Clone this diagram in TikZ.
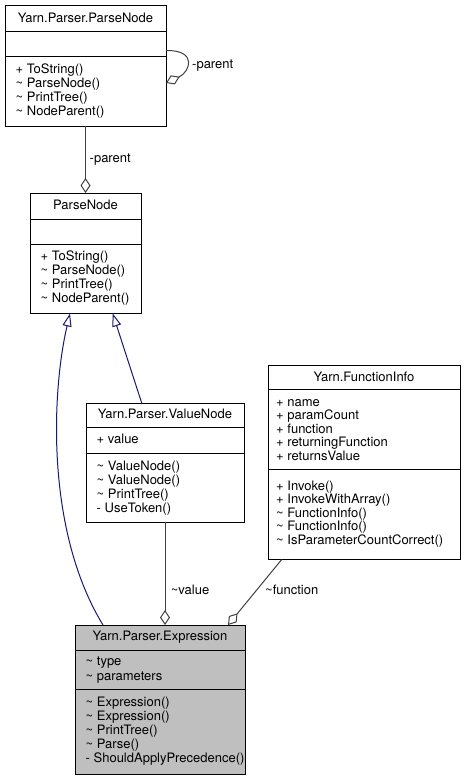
\documentclass[tikz,border=0pt]{standalone}
\usepackage{fontspec}
\setmainfont{TeX Gyre Heros}
\usetikzlibrary{arrows.meta}
\newcommand{\tld}{\textasciitilde}
\newcommand{\fnt}{\fontsize{13pt}{14pt}\selectfont}
\definecolor{edgeblue}{HTML}{191970}
\definecolor{edgegray}{HTML}{404040}
\definecolor{boxgray}{HTML}{BFBFBF}
\begin{document}
\begin{tikzpicture}[x=1pt,y=-1pt,
  box/.style={draw=black, line width=1pt, rectangle, inner sep=0pt, outer sep=0pt, anchor=north west, fill=white},
  txt/.style={anchor=base west, inner sep=0pt, font=\fnt},
  ttl/.style={anchor=base, inner sep=0pt, font=\fnt},
  lbl/.style={anchor=base west, inner sep=0pt, font=\fnt},
  sepline/.style={line width=1pt},
  agg/.style={draw=edgegray, line width=1pt, -{Diamond[open, length=15pt, width=10pt, line width=1pt]}},
  inh/.style={draw=edgeblue, line width=1pt, -{Triangle[open, length=13pt, width=9pt, line width=1pt]}}]
\useasboundingbox (0,0) rectangle (464,781);

% ---- Yarn.Parser.ParseNode
\node[box, minimum width=161pt, minimum height=120.5pt] (pn1) at (5,6) {};
\draw[sepline] (5,32) -- (166,32);
\draw[sepline] (5,57) -- (166,57);
\node[ttl] (pn1t) at (85.5,22.7) {Yarn.Parser.ParseNode};
\node[txt] (pn1m1) at (15.5,73.5) {+ ToString()};
\node[txt] (pn1m2) at (15.5,87.5) {\tld{} ParseNode()};
\node[txt] (pn1m3) at (15.5,101.5) {\tld{} PrintTree()};
\node[txt] (pn1m4) at (15.5,115.5) {\tld{} NodeParent()};

% ---- ParseNode
\node[box, minimum width=111pt, minimum height=120.5pt] (pn2) at (30,193) {};
\draw[sepline] (30,219) -- (141,219);
\draw[sepline] (30,244) -- (141,244);
\node[ttl] (pn2t) at (85.5,209.7) {ParseNode};
\node[txt] (pn2m1) at (40.5,260.5) {+ ToString()};
\node[txt] (pn2m2) at (40.5,274.5) {\tld{} ParseNode()};
\node[txt] (pn2m3) at (40.5,288.5) {\tld{} PrintTree()};
\node[txt] (pn2m4) at (40.5,302.5) {\tld{} NodeParent()};

% ---- Yarn.Parser.ValueNode
\node[box, minimum width=158pt, minimum height=119pt] (vn) at (86,403) {};
\draw[sepline] (86,427) -- (244,427);
\draw[sepline] (86,453) -- (244,453);
\node[ttl] (vnt) at (165,418.5) {Yarn.Parser.ValueNode};
\node[txt] (vna1) at (96.5,443.5) {+ value};
\node[txt] (vnm1) at (96.5,470) {\tld{} ValueNode()};
\node[txt] (vnm2) at (96.5,484) {\tld{} ValueNode()};
\node[txt] (vnm3) at (96.5,498) {\tld{} PrintTree()};
\node[txt] (vnm4) at (96.5,512) {- UseToken()};

% ---- Yarn.FunctionInfo
\node[box, minimum width=192pt, minimum height=194.5pt] (fi) at (268,365) {};
\draw[sepline] (268,389.5) -- (460,389.5);
\draw[sepline] (268,469.5) -- (460,469.5);
\node[ttl] (fit) at (364,381) {Yarn.FunctionInfo};
\node[txt] (fia1) at (276,406) {+ name};
\node[txt] (fia2) at (276,419.5) {+ paramCount};
\node[txt] (fia3) at (276,433) {+ function};
\node[txt] (fia4) at (276,446.5) {+ returningFunction};
\node[txt] (fia5) at (276,460) {+ returnsValue};
\node[txt] (fim1) at (276,490) {+ Invoke()};
\node[txt] (fim2) at (276,503.6) {+ InvokeWithArray()};
\node[txt] (fim3) at (276,517.2) {\tld{} FunctionInfo()};
\node[txt] (fim4) at (276,530.8) {\tld{} FunctionInfo()};
\node[txt] (fim5) at (276,544.4) {\tld{} IsParameterCountCorrect()};

% ---- Yarn.Parser.Expression
\node[box, fill=boxgray, minimum width=170pt, minimum height=149.5pt] (ex) at (75,625) {};
\draw[sepline] (75,650) -- (245,650);
\draw[sepline] (75,689) -- (245,689);
\node[ttl] (ext) at (160,640) {Yarn.Parser.Expression};
\node[txt] (exa1) at (85.5,665.7) {\tld{} type};
\node[txt] (exa2) at (85.5,680) {\tld{} parameters};
\node[txt] (exm1) at (85.5,706) {\tld{} Expression()};
\node[txt] (exm2) at (85.5,720) {\tld{} Expression()};
\node[txt] (exm3) at (85.5,734) {\tld{} PrintTree()};
\node[txt] (exm4) at (85.5,748.3) {\tld{} Parse()};
\node[txt] (exm5) at (85.5,762.3) {- ShouldApplyPrecedence()};

% ---- connectors
\draw[agg] (pn1.south) -- (pn2.north);
\node[lbl] (l1) at (89.5,162) {-parent};

\draw[agg] ([yshift=15.75pt]pn1.east) .. controls (198,50) and (190,72) .. ([yshift=-16.75pt]pn1.east);
\node[lbl] (l2) at (192,69) {-parent};

\draw[inh] ([xshift=-23.3pt]vn.north) -- ([xshift=27.2pt]pn2.south);
\draw[inh] ([xshift=-57pt]ex.north) .. controls (45,530) and (52,390) .. ([xshift=-15.5pt]pn2.south);

\draw[agg] (vn.south) -- ([xshift=5pt]ex.north);
\node[lbl] (l3) at (170.7,594) {\tld value};

\draw[agg] ([xshift=-82.3pt]fi.south) -- ([xshift=68pt]ex.north);
\node[lbl] (l4) at (265,594) {\tld function};
\end{tikzpicture}
\end{document}
